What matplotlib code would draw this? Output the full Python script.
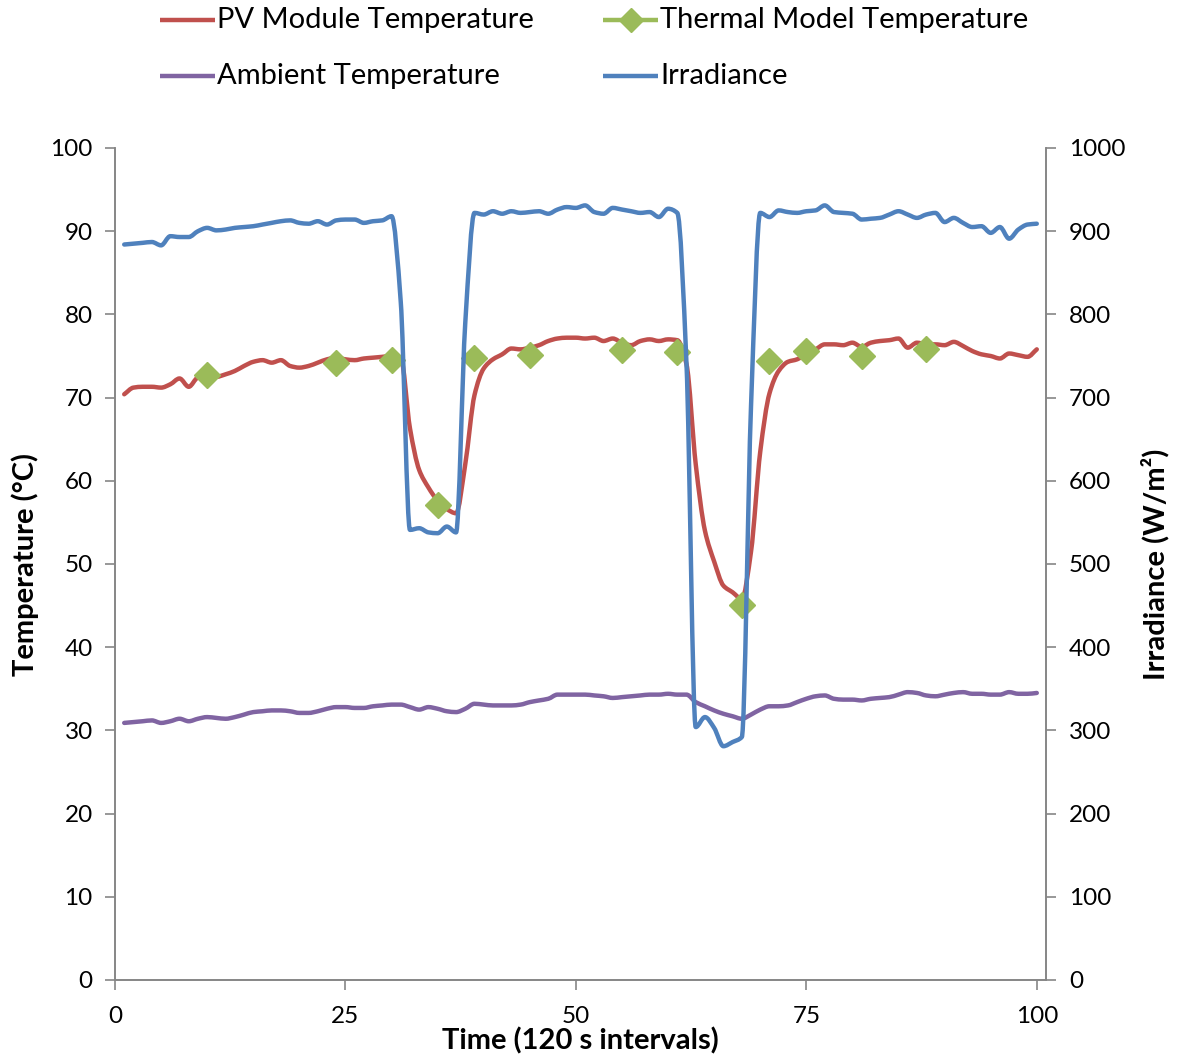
import matplotlib
matplotlib.use("Agg")
import matplotlib.pyplot as plt
from matplotlib.lines import Line2D
from matplotlib.path import Path
from matplotlib.patches import PathPatch

plt.rcParams['font.family'] = ['Lato', 'DejaVu Sans']

# ---------------- data ----------------
time = list(range(1, 101))

pv_module = [
    70.4, 71.2, 71.3, 71.3, 71.2, 71.6, 72.3, 71.3, 72.4, 72.5,
    72.5, 72.8, 73.2, 73.8, 74.3, 74.5, 74.2, 74.5, 73.8, 73.6,
    73.8, 74.2, 74.6, 74.8, 74.6, 74.5, 74.7, 74.8, 74.9, 75.0,
    74.8, 66.3, 61.3, 59.2, 57.6, 56.6, 56.1, 62.0, 70.3, 73.5,
    74.6, 75.2, 75.9, 75.8, 76.0, 76.3, 76.8, 77.1, 77.2, 77.2,
    77.1, 77.2, 76.8, 77.1, 76.6, 76.3, 76.8, 77.0, 76.8, 77.0,
    76.9, 74.0, 62.0, 54.0, 50.3, 47.4, 46.6, 45.8, 51.5, 63.5,
    70.5, 73.2, 74.3, 74.6, 75.3, 75.8, 76.4, 76.4, 76.3, 76.6,
    76.1, 76.6, 76.8, 76.9, 77.1, 76.0, 76.6, 76.4, 76.4, 76.3,
    76.7, 76.2, 75.6, 75.2, 75.0, 74.7, 75.3, 75.1, 74.9, 75.8,
]

ambient = [
    30.9, 31.0, 31.1, 31.2, 30.9, 31.1, 31.4, 31.1, 31.4, 31.6,
    31.5, 31.4, 31.6, 31.9, 32.2, 32.3, 32.4, 32.4, 32.3, 32.1,
    32.1, 32.3, 32.6, 32.8, 32.8, 32.7, 32.7, 32.9, 33.0, 33.1,
    33.1, 32.8, 32.5, 32.8, 32.6, 32.3, 32.2, 32.6, 33.2, 33.1,
    33.0, 33.0, 33.0, 33.1, 33.4, 33.6, 33.8, 34.3, 34.3, 34.3,
    34.3, 34.2, 34.1, 33.9, 34.0, 34.1, 34.2, 34.3, 34.3, 34.4,
    34.3, 34.3, 33.4, 32.9, 32.4, 32.0, 31.7, 31.4, 31.9, 32.5,
    32.9, 32.9, 33.0, 33.4, 33.8, 34.1, 34.2, 33.8, 33.7, 33.7,
    33.6, 33.8, 33.9, 34.0, 34.3, 34.6, 34.5, 34.2, 34.1, 34.3,
    34.5, 34.6, 34.4, 34.4, 34.3, 34.3, 34.6, 34.4, 34.4, 34.5,
]

irradiance = [
    884, 885, 886, 887, 883, 894, 893, 893, 900, 904,
    901, 902, 904, 905, 906, 908, 910, 912, 913, 910,
    909, 912, 908, 913, 914, 914, 910, 912, 913, 918,
    815, 541, 543, 538, 537, 545, 538, 790, 922, 920,
    924, 921, 924, 922, 923, 924, 921, 926, 929, 928,
    931, 923, 921, 928, 926, 924, 922, 923, 917, 927,
    922, 740, 304, 316, 303, 281, 286, 292, 690, 922,
    917, 925, 923, 922, 924, 925, 931, 923, 922, 921,
    914, 915, 916, 920, 924, 920, 916, 920, 922, 911,
    916, 910, 905, 906, 898, 905, 891, 902, 908, 909,
]

model_time = [10, 24, 30, 35, 39, 45, 55, 61, 68, 71, 75, 81, 88]
model_temp = [72.7, 74.2, 74.5, 57.1, 74.7, 75.1, 75.7, 75.5, 45.1, 74.4, 75.6, 75.0, 75.8]

x_ticks = [0, 25, 50, 75, 100]
temp_ticks = list(range(0, 101, 10))
irr_ticks = list(range(0, 1001, 100))

series_labels = ['PV Module Temperature', 'Thermal Model Temperature',
                 'Ambient Temperature', 'Irradiance']

# ---------------- styling ----------------
C_RED = '#C0504D'
C_GREEN = '#9BBB59'
C_PURPLE = '#8064A2'
C_BLUE = '#4F81BD'
C_AXIS = '#868686'
LW = 3.2
FS = 17.5

W, H = 1178, 1059


def smooth_path(xs, ys):
    """Smoothed line drawn as cubic Bezier segments through every data point
    (monotone tangents, so the curve never overshoots the data)."""
    n = len(xs)
    d = [(ys[i + 1] - ys[i]) / (xs[i + 1] - xs[i]) for i in range(n - 1)]
    m = [0.0] * n
    m[0], m[-1] = d[0], d[-1]
    for i in range(1, n - 1):
        a, b = d[i - 1], d[i]
        m[i] = 0.0 if a * b <= 0 else 2 * a * b / (a + b)
    verts = [(xs[0], ys[0])]
    codes = [Path.MOVETO]
    for i in range(n - 1):
        h = xs[i + 1] - xs[i]
        verts += [(xs[i] + h / 3, ys[i] + m[i] * h / 3),
                  (xs[i + 1] - h / 3, ys[i + 1] - m[i + 1] * h / 3),
                  (xs[i + 1], ys[i + 1])]
        codes += [Path.CURVE4] * 3
    return Path(verts, codes)


def add_smooth(axis, xs, ys, color, z=2):
    axis.add_patch(PathPatch(smooth_path(xs, ys), facecolor='none', edgecolor=color,
                             lw=LW, capstyle='round', joinstyle='round', zorder=z))


fig = plt.figure(figsize=(W / 100, H / 100), dpi=100)
ax = fig.add_axes([115 / W, 1 - 980 / H, (1046 - 115) / W, (980 - 148) / H])
ax2 = ax.twinx()

add_smooth(ax, time, pv_module, C_RED)
add_smooth(ax, time, ambient, C_PURPLE)
ax.plot(model_time, model_temp, linestyle='none', marker='D', markersize=13,
        color=C_GREEN, markeredgecolor=C_GREEN, zorder=3)
add_smooth(ax2, time, irradiance, C_BLUE)

ax.set_xlim(0, 101)
ax.set_ylim(0, 100)
ax2.set_ylim(0, 1000)
ax.set_xticks(x_ticks)
ax.set_yticks(temp_ticks)
ax2.set_yticks(irr_ticks)

for a in (ax, ax2):
    a.spines['top'].set_visible(False)
    for s in ('left', 'right', 'bottom'):
        a.spines[s].set_color(C_AXIS)
        a.spines[s].set_linewidth(1.2)
    a.tick_params(colors=C_AXIS, labelcolor='black', length=7, width=1.2,
                  labelsize=FS, direction='out')
ax.tick_params(axis='y', pad=9)
ax.tick_params(axis='x', pad=12)
ax2.tick_params(axis='y', pad=9.5)

# axis titles
fig.text(25 / W, 1 - 565 / H, 'Temperature (°C)', rotation=90, ha='center', va='center',
         fontsize=21, fontweight='bold')
fig.text(1155 / W, 1 - 564 / H, 'Irradiance (W/m²)', rotation=90, ha='center', va='center',
         fontsize=21, fontweight='bold')
fig.text(580 / W, 1 - 1041 / H, 'Time (120 s intervals)', ha='center', va='center',
         fontsize=21, fontweight='bold')

# legend (two rows x two columns, row-major like the reference)
legend_pos = [(160, 20), (603, 20), (160, 76), (603, 76)]
legend_colors = [C_RED, C_GREEN, C_PURPLE, C_BLUE]
for k, (lbl, col, (px, py)) in enumerate(zip(series_labels, legend_colors, legend_pos)):
    yf = 1 - py / H
    fig.add_artist(Line2D([px / W, (px + 55) / W], [yf, yf], color=col, lw=LW,
                          transform=fig.transFigure, solid_capstyle='butt'))
    if k == 1:
        fig.add_artist(Line2D([(px + 27.5) / W], [yf], color=col, marker='D', markersize=12,
                              transform=fig.transFigure, linestyle='none'))
    fig.text((px + 57) / W, yf, lbl, ha='left', va='center', fontsize=21)

fig.savefig('out.png', dpi=100)
